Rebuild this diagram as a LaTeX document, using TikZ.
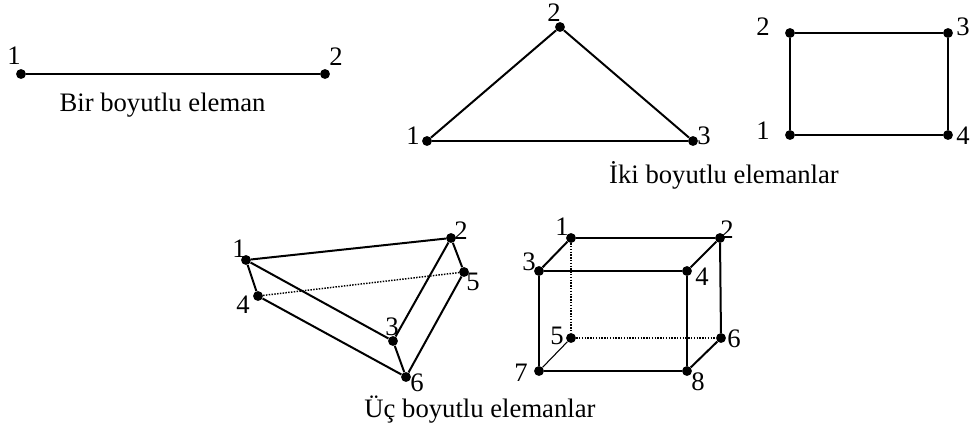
\documentclass[tikz,border=0pt]{standalone}
\usepackage{fontspec}
\setmainfont{Liberation Serif}
\usetikzlibrary{positioning}
\tikzset{
  dot/.style={circle,fill=black,inner sep=0pt,minimum size=7.4pt},
  num/.style={inner sep=0pt,font=\fontsize{20}{22}\selectfont},
  figcap/.style={inner sep=0pt,anchor=base,font=\fontsize{20}{22}\selectfont},
  edge/.style={draw=black,line width=1.5pt},
  hidden/.style={draw=black,line width=1.1pt,densely dotted},
  thinedge/.style={draw=black,line width=0.8pt},
}
\begin{document}
\begin{tikzpicture}[x=0.75pt,y=-0.75pt]
  \useasboundingbox (0,0) rectangle (971,430);
  % --- bir boyutlu ---
  \node[dot](a1) at (21,74){};
  \node[dot](a2) at (325,74){};
  \draw[edge](a1)--(a2);
  \node[num](la1) at (14,56){1};
  \node[num](la2) at (336,57){2};
  \node[figcap](capa) at (162.5,111){Bir boyutlu eleman};
  % --- ucgen ---
  \node[dot](t1) at (427,141){};
  \node[dot](t2) at (560,27){};
  \node[dot](t3) at (693,141){};
  \draw[edge](t1)--(t2); \draw[edge](t2)--(t3); \draw[edge](t3)--(t1);
  \node[num](lt1) at (413,136){1};
  \node[num](lt2) at (554,13){2};
  \node[num](lt3) at (704,136){3};
  % --- dortgen ---
  \node[dot](r1) at (790,135){};
  \node[dot](r2) at (790,33){};
  \node[dot](r3) at (948,33){};
  \node[dot](r4) at (948,135){};
  \draw[edge](r1)--(r2); \draw[edge](r2)--(r3); \draw[edge](r3)--(r4); \draw[edge](r4)--(r1);
  \node[num](lr1) at (763,131){1};
  \node[num](lr2) at (763,27){2};
  \node[num](lr3) at (963,27){3};
  \node[num](lr4) at (963,136){4};
  \node[figcap](capb) at (724,183){İki boyutlu elemanlar};
  % --- prizma ---
  \node[dot](p1) at (246,260){};
  \node[dot](p2) at (451,238){};
  \node[dot](p3) at (393,341){};
  \node[dot](p4) at (258,296){};
  \node[dot](p5) at (464,272){};
  \node[dot](p6) at (406,377){};
  \draw[edge](p1)--(p2); \draw[edge](p2)--(p3); \draw[edge](p3)--(p1);
  \draw[edge](p1)--(p4); \draw[edge](p2)--(p5); \draw[edge](p3)--(p6);
  \draw[edge](p4)--(p6); \draw[edge](p6)--(p5);
  \draw[hidden](p4)--(p5);
  \node[num](lp1) at (239,249){1};
  \node[num](lp2) at (461,231){2};
  \node[num](lp3) at (392,327){3};
  \node[num](lp4) at (243,305){4};
  \node[num](lp5) at (473,282){5};
  \node[num](lp6) at (417,383){6};
  % --- kutu ---
  \node[dot](b1) at (571,238){};
  \node[dot](b2) at (720,238){};
  \node[dot](b3) at (539,271){};
  \node[dot](b4) at (687,271){};
  \node[dot](b5) at (571,338){};
  \node[dot](b6) at (721,338){};
  \node[dot](b7) at (539,371){};
  \node[dot](b8) at (687,371){};
  \draw[edge](b1)--(b2); \draw[edge](b3)--(b4); \draw[edge](b7)--(b8);
  \draw[edge](b3)--(b7); \draw[edge](b4)--(b8); \draw[edge](b2)--(b6);
  \draw[edge](b1)--(b3); \draw[edge](b2)--(b4); \draw[edge](b6)--(b8);
  \draw[hidden](b1)--(b5); \draw[hidden](b5)--(b6);
  \draw[thinedge](b5)--(b7);
  \node[num](lb1) at (562,227){1};
  \node[num](lb2) at (727,230){2};
  \node[num](lb3) at (529,262){3};
  \node[num](lb4) at (702,277){4};
  \node[num](lb5) at (557,336){5};
  \node[num](lb6) at (734,339){6};
  \node[num](lb7) at (521,373){7};
  \node[num](lb8) at (698,382){8};
  \node[figcap](capc) at (480,417){Üç boyutlu elemanlar};
\end{tikzpicture}
\end{document}
